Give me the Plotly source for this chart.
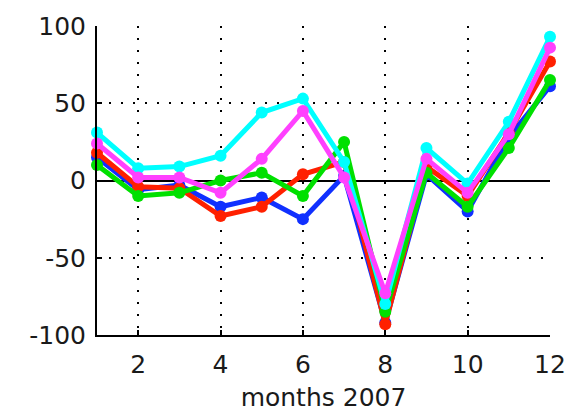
import plotly.graph_objects as go

months = [1, 2, 3, 4, 5, 6, 7, 8, 9, 10, 11, 12]

blue = [15, -6, -3, -17, -11, -25, 3, -92, 4, -20, 28, 61]
red = [18, -4, -5, -23, -17, 4, 12, -93, 9, -10, 31, 77]
green = [10, -10, -8, 0, 5, -10, 25, -85, 5, -17, 21, 65]
cyan = [31, 8, 9, 16, 44, 53, 12, -80, 21, -2, 38, 93]
magenta = [24, 2, 2, -8, 14, 45, 2, -73, 14, -8, 30, 86]

series = [
    ("blue", blue, "#1030ff"),
    ("red", red, "#ff2000"),
    ("green", green, "#00e000"),
    ("cyan", cyan, "#00ffff"),
    ("magenta", magenta, "#ff40ff"),
]

x_ticks = [2, 4, 6, 8, 10, 12]
y_ticks = [-100, -50, 0, 50, 100]
y_tick_text = ["-100", "-50", "0", "50", "100"]

fig = go.Figure()
for name, vals, col in series:
    fig.add_trace(go.Scatter(
        x=months, y=vals, mode="lines+markers", name=name,
        line=dict(color=col, width=5),
        marker=dict(color=col, size=12),
        cliponaxis=False,
    ))

font = dict(family="DejaVu Sans", size=25, color="#1a1a1a")

fig.update_layout(
    width=578, height=419,
    margin=dict(l=97, r=21, t=21, b=79),
    paper_bgcolor="white", plot_bgcolor="white",
    showlegend=False,
    font=font,
)
fig.update_xaxes(
    range=[1, 12], tickvals=x_ticks, ticks="inside", ticklen=5, tickwidth=2,
    tickcolor="black", ticklabelstandoff=6,
    showline=True, linecolor="black", linewidth=2,
    showgrid=True, gridcolor="black", gridwidth=1.5, griddash="2px,10px",
    zeroline=False,
    title=dict(text="months 2007", font=font, standoff=10),
    tickfont=font,
)
fig.update_yaxes(
    range=[-100, 100], tickvals=y_ticks, ticktext=y_tick_text,
    ticks="inside", ticklen=5, tickwidth=2,
    tickcolor="black", ticklabelstandoff=4,
    showline=True, linecolor="black", linewidth=2,
    showgrid=True, gridcolor="black", gridwidth=1.5, griddash="2px,10px",
    zeroline=True, zerolinecolor="black", zerolinewidth=2,
    tickfont=font,
)

fig.write_html("out.html")
